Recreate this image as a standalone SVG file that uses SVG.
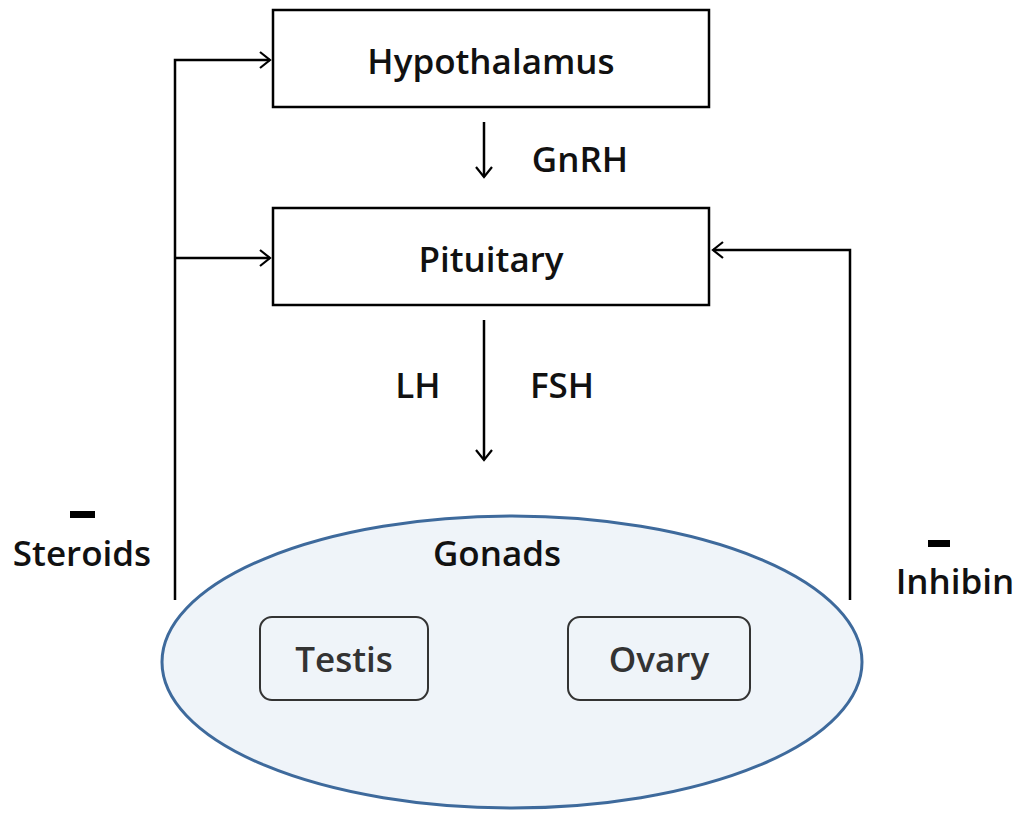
<svg xmlns="http://www.w3.org/2000/svg" width="1021" height="818" viewBox="0 0 1021 818">
<defs>
<marker id="arr" viewBox="0 0 20 20" refX="18" refY="10" markerWidth="20" markerHeight="20" markerUnits="userSpaceOnUse" orient="auto">
<path d="M8,2 L18,10 L8,18" fill="none" stroke="#000" stroke-width="2.2"/>
</marker>
</defs>
<style>
.box{fill:#fff;stroke:#000;stroke-width:2.5}
.lbl{font-family:"Open Sans","Liberation Sans",sans-serif;font-weight:600;font-size:35px;fill:#111;text-anchor:middle}
.inner{fill:none;stroke:#333;stroke-width:2}
.innerlbl{font-family:"Open Sans","Liberation Sans",sans-serif;font-weight:600;font-size:35px;fill:#333;text-anchor:middle}
.con{fill:none;stroke:#000;stroke-width:2.5}
</style>
<rect width="1021" height="818" fill="#fff"/>
<g id="connectors">
<path class="con" d="M175,600 V60 H270" marker-end="url(#arr)"/>
<path class="con" d="M175,258 H270" marker-end="url(#arr)"/>
<path class="con" d="M850,600 V250 H713" marker-end="url(#arr)"/>
<path class="con" d="M484,122 V177" marker-end="url(#arr)"/>
<path class="con" d="M484,320 V460" marker-end="url(#arr)"/>
</g>
<g id="gonads">
<ellipse cx="512" cy="662" rx="350" ry="146" fill="#eff4f9" stroke="#3e6a9c" stroke-width="3"/>
<text class="lbl" x="497" y="566">Gonads</text>
</g>
<g id="hypothalamus">
<rect class="box" x="273" y="10" width="436" height="97"/>
<text class="lbl" x="491" y="74">Hypothalamus</text>
</g>
<g id="pituitary">
<rect class="box" x="273" y="208" width="436" height="97"/>
<text class="lbl" x="491" y="272">Pituitary</text>
</g>
<g id="testis">
<rect class="inner" x="260" y="617" width="168" height="83" rx="12"/>
<text class="innerlbl" x="344" y="672">Testis</text>
</g>
<g id="ovary">
<rect class="inner" x="568" y="617" width="182" height="83" rx="12"/>
<text class="innerlbl" x="659" y="672">Ovary</text>
</g>
<g id="labels">
<text class="lbl" x="580" y="172">GnRH</text>
<text class="lbl" x="418" y="398">LH</text>
<text class="lbl" x="562" y="398">FSH</text>
<rect x="70" y="511" width="25" height="7" fill="#000"/>
<text class="lbl" x="82" y="566">Steroids</text>
<rect x="928" y="540" width="22" height="7" fill="#000"/>
<text class="lbl" x="955" y="594">Inhibin</text>
</g>
</svg>
